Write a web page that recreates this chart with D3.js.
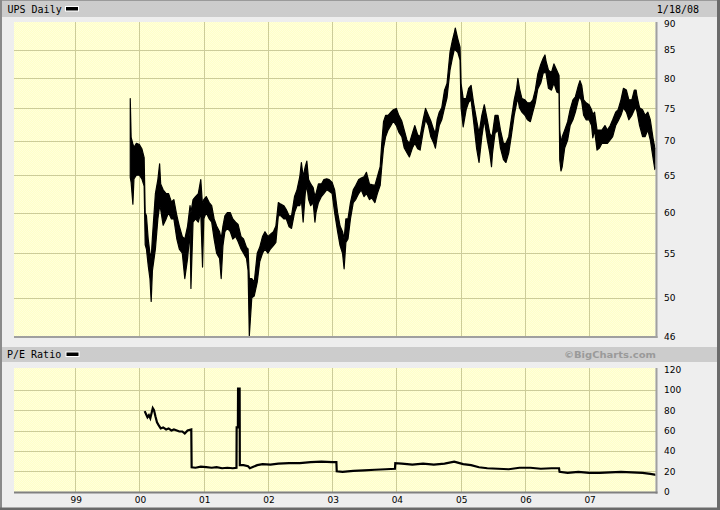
<!DOCTYPE html>
<html><head><meta charset="utf-8">
<script src="https://cdn.jsdelivr.net/npm/d3@7"></script>
<style>body{margin:0;background:#eeeeee}svg{display:block}</style>
</head><body>
<svg id="chart" width="720" height="510"></svg>
<script>
// ---------- DATA ----------
const titleMain = "UPS Daily";
const titleLower = "P/E Ratio";
const dateLabel = "1/18/08";
const creditLabel = "\u00A9BigCharts.com";

const priceTicks = [46, 50, 55, 60, 65, 70, 75, 80, 85, 90];
const peTicks = [0, 20, 40, 60, 80, 100, 120];
const yearLabels = ["99", "00", "01", "02", "03", "04", "05", "06", "07"];
const yearStarts = ["1999-01-01", "2000-01-01", "2001-01-01", "2002-01-01", "2003-01-01",
                    "2004-01-01", "2005-01-01", "2006-01-01", "2007-01-01"];

const priceDates = [
 "1999-11-10","1999-11-15","1999-11-25","1999-12-01","1999-12-15","2000-01-01","2000-01-15","2000-01-28",
 "2000-02-03","2000-02-10","2000-02-20","2000-03-01","2000-03-08","2000-03-15","2000-04-01","2000-04-15",
 "2000-04-25","2000-05-01","2000-05-15","2000-06-01","2000-06-15","2000-07-01","2000-07-15","2000-08-01",
 "2000-08-15","2000-09-01","2000-09-15","2000-10-01","2000-10-15","2000-10-20","2000-11-01","2000-11-15",
 "2000-12-01","2000-12-15","2000-12-25","2001-01-01","2001-01-15","2001-02-01","2001-02-15","2001-03-01",
 "2001-03-15","2001-04-01","2001-04-10","2001-04-20","2001-05-01","2001-05-15","2001-06-01","2001-06-15",
 "2001-07-01","2001-07-15","2001-08-01","2001-08-15","2001-09-01","2001-09-10","2001-09-17","2001-10-01",
 "2001-10-15","2001-11-01","2001-11-15","2001-12-01","2001-12-15","2002-01-01","2002-01-15","2002-02-01",
 "2002-02-15","2002-03-01","2002-03-15","2002-04-01","2002-04-15","2002-05-01","2002-05-15","2002-06-01",
 "2002-06-15","2002-07-01","2002-07-10","2002-07-20","2002-08-01","2002-08-10","2002-08-20","2002-09-01",
 "2002-09-15","2002-09-25","2002-10-01","2002-10-15","2002-11-01","2002-11-15","2002-12-01","2002-12-15",
 "2003-01-01","2003-01-15","2003-02-01","2003-02-15","2003-03-01","2003-03-10","2003-03-20","2003-04-01",
 "2003-04-15","2003-05-01","2003-05-15","2003-06-01","2003-06-15","2003-07-01","2003-07-15","2003-08-01",
 "2003-08-15","2003-09-01","2003-09-15","2003-10-01","2003-10-10","2003-10-20","2003-11-01","2003-11-15",
 "2003-12-01","2003-12-15","2004-01-01","2004-01-15","2004-02-01","2004-02-15","2004-03-01","2004-03-15",
 "2004-04-01","2004-04-15","2004-05-01","2004-05-15","2004-06-01","2004-06-15","2004-07-01","2004-07-15",
 "2004-08-01","2004-08-10","2004-08-20","2004-09-01","2004-09-15","2004-10-01","2004-10-15","2004-11-01",
 "2004-11-15","2004-11-25","2004-12-01","2004-12-15","2004-12-28","2005-01-03","2005-01-15","2005-02-01",
 "2005-02-15","2005-03-01","2005-03-15","2005-04-01","2005-04-15","2005-05-01","2005-05-15","2005-06-01",
 "2005-06-15","2005-06-25","2005-07-01","2005-07-15","2005-08-01","2005-08-15","2005-09-01","2005-09-15",
 "2005-10-01","2005-10-15","2005-11-01","2005-11-15","2005-11-22","2005-12-01","2005-12-15","2006-01-01",
 "2006-01-15","2006-02-01","2006-02-15","2006-03-01","2006-03-15","2006-04-01","2006-04-15","2006-04-25",
 "2006-05-01","2006-05-15","2006-06-01","2006-06-15","2006-07-01","2006-07-14","2006-07-18","2006-07-25",
 "2006-08-01","2006-08-15","2006-09-01","2006-09-15","2006-10-01","2006-10-15","2006-11-01","2006-11-10",
 "2006-11-20","2006-12-01","2006-12-15","2007-01-01","2007-01-15","2007-01-22","2007-02-01","2007-02-15",
 "2007-03-01","2007-03-15","2007-04-01","2007-04-15","2007-05-01","2007-05-15","2007-06-01","2007-06-15",
 "2007-07-01","2007-07-15","2007-08-01","2007-08-15","2007-09-01","2007-09-15","2007-09-25","2007-10-01",
 "2007-10-15","2007-11-01","2007-11-15","2007-12-01","2007-12-15","2008-01-01","2008-01-10","2008-01-18"
];
const priceHigh = [
 76.6,70.5,69.5,69.0,69.6,69.4,68.8,67.5,
 60.0,59.6,56.7,55.0,54.4,56.9,62.5,64.4,
 66.6,63.8,63.0,62.5,62.5,61.4,61.7,59.6,
 58.3,57.0,56.7,58.3,60.9,60.0,61.7,62.1,
 62.5,64.4,60.9,61.7,62.1,61.3,60.9,59.2,
 58.3,57.6,56.7,58.3,59.6,60.0,60.0,59.2,
 58.8,58.5,57.0,56.7,55.7,55.5,52.1,52.1,
 51.7,55.0,55.7,57.0,57.6,57.0,57.3,57.6,
 58.3,61.3,61.1,60.9,60.4,59.6,59.6,62.1,
 63.0,64.8,66.8,64.8,66.2,67.0,64.4,63.8,
 63.3,62.1,62.5,63.8,63.8,64.4,64.5,64.4,
 64.0,63.0,60.0,58.3,57.6,56.7,59.2,59.2,
 61.3,63.0,63.6,64.4,64.6,64.8,65.4,63.8,
 63.7,63.6,64.8,66.2,69.6,72.9,73.9,73.9,
 74.4,74.8,75.0,73.9,73.0,71.6,70.1,69.6,
 71.1,72.3,70.9,70.6,73.2,75.0,73.9,73.0,
 71.6,71.1,73.2,74.4,75.1,78.0,79.1,84.6,
 86.8,88.1,89.1,87.1,85.5,79.1,76.6,76.6,
 78.3,78.8,75.9,73.2,71.1,73.9,75.6,73.2,
 71.1,70.6,71.1,73.9,73.9,71.6,69.6,69.6,
 70.6,73.2,76.4,78.3,80.0,78.3,76.6,76.4,
 75.9,75.9,76.4,78.0,80.7,82.4,83.5,84.1,
 83.0,81.4,81.0,82.5,81.4,80.5,71.6,69.6,
 70.6,71.6,72.9,74.8,76.4,76.9,78.8,79.6,
 78.8,76.4,75.9,75.6,74.8,74.0,74.4,71.6,
 71.6,71.6,72.3,71.6,72.3,73.2,74.4,74.8,
 76.4,78.3,78.0,76.4,76.4,78.0,78.0,76.9,
 75.1,74.8,73.9,74.4,73.2,70.1,68.9,68.9
];
const priceLow = [
 64.7,64.0,61.1,64.5,65.0,65.0,64.5,63.5,
 56.0,55.5,53.6,52.1,49.6,53.0,55.5,59.2,
 60.9,60.4,58.4,59.2,60.0,59.2,59.2,56.7,
 55.5,55.0,52.1,54.4,57.6,51.0,58.8,59.2,
 58.8,60.0,53.4,59.2,60.0,59.2,58.8,56.7,
 55.0,54.4,52.1,55.9,57.6,58.0,57.6,56.7,
 57.0,56.4,55.5,55.0,54.4,53.0,46.1,50.0,
 50.2,51.7,54.0,55.0,55.5,55.0,55.5,55.9,
 56.3,59.6,59.6,59.2,59.2,58.2,58.0,60.0,
 60.9,60.9,61.7,58.8,62.5,63.6,61.7,60.9,
 61.3,58.8,60.0,61.3,62.1,62.5,63.0,62.8,
 62.5,60.0,57.6,55.9,55.0,53.2,56.3,56.7,
 59.2,61.3,61.7,62.5,63.0,62.1,62.5,61.7,
 61.9,61.3,62.5,63.6,66.2,68.9,70.6,71.6,
 72.3,73.0,72.3,71.3,70.6,68.9,68.2,67.6,
 68.9,69.6,68.8,68.6,71.3,73.2,72.3,70.6,
 69.6,68.9,70.6,72.3,73.2,75.1,76.7,81.4,
 83.6,85.0,85.0,84.6,83.2,75.1,72.1,74.8,
 76.0,76.4,73.0,68.9,66.8,70.6,73.2,70.1,
 68.2,66.2,68.2,71.1,71.6,68.9,67.2,66.8,
 68.2,70.6,73.9,75.9,76.6,75.1,74.4,73.9,
 73.2,72.9,74.4,75.9,78.2,79.2,80.9,81.0,
 80.9,78.3,78.0,79.2,77.7,77.5,67.2,65.6,
 66.2,68.9,70.1,72.3,73.2,74.4,76.4,76.9,
 76.1,73.9,73.2,73.2,72.3,70.4,71.6,68.6,
 68.9,69.6,69.6,69.6,70.1,70.6,72.3,73.0,
 73.9,75.1,74.4,73.2,73.9,74.8,75.1,74.4,
 72.3,70.6,70.6,71.6,70.1,67.2,65.8,66.2
];

const peDates = [
 "2000-01-31","2000-02-08","2000-02-16","2000-02-24","2000-03-03","2000-03-10","2000-03-17","2000-03-24",
 "2000-04-01","2000-04-10","2000-04-20","2000-05-01","2000-05-15","2000-06-01","2000-06-15","2000-07-01",
 "2000-07-15","2000-08-01","2000-08-15","2000-09-01","2000-09-15","2000-10-01","2000-10-22","2000-10-24",
 "2000-11-15","2000-12-15","2001-01-15","2001-02-15","2001-03-15","2001-04-15","2001-05-15","2001-06-15",
 "2001-07-06","2001-07-07","2001-07-14","2001-07-15","2001-07-24","2001-07-25","2001-08-15","2001-09-10",
 "2001-09-20","2001-10-10","2001-11-01","2001-12-01","2002-01-15","2002-03-01","2002-05-01","2002-07-01",
 "2002-09-01","2002-11-01","2003-01-01","2003-01-25","2003-01-27","2003-03-01","2003-05-01","2003-07-01",
 "2003-09-01","2003-11-01","2003-12-24","2003-12-26","2004-02-01","2004-04-01","2004-06-01","2004-08-01",
 "2004-10-01","2004-11-25","2004-12-15","2005-01-15","2005-03-01","2005-04-15","2005-06-01","2005-08-01",
 "2005-10-01","2005-12-01","2006-02-01","2006-04-01","2006-06-01","2006-07-14","2006-07-17","2006-09-01",
 "2006-11-01","2007-01-01","2007-03-01","2007-05-01","2007-07-01","2007-09-01","2007-11-01","2007-12-15",
 "2008-01-18"
];
const peValues = [
 79,76,73,75,72,77,82,80,
 74,68,65,62,63,61,62,60,
 61,60,59,59,57,60,61,24,
 23.5,24.5,24,23.5,24,23,23.5,23,
 23.5,63,63,101,101,26,26,25,
 23,24.5,26,27,26.5,27.5,28,28,
 29,29.5,29,29,20,19.5,20.5,21,
 21.5,22,22.5,28,27.5,26.5,27.5,26.5,
 27.5,29.5,28.5,27,26,24,23,22.5,
 22,23.5,23.5,22.5,23,23,19.5,18.5,
 19.5,18.5,18.5,19,19.5,19,18.5,17.5,
 16.5
];

// ---------- DRAW ----------
const parse = d3.utcParse("%Y-%m-%d");
const svg = d3.select("#chart");

const L = 14, R = 655.5;
const mainTop = 22, mainBot = 336;
const peTop = 368, peBot = 491.7;

const x = d3.scaleUtc().domain([parse("1998-01-18"), parse("2008-01-18")]).range([L, 656.3]);
const yP = d3.scaleLog().domain([46, 90]).range([336.7, 23.3]);
const yE = d3.scaleLinear().domain([0, 120]).range([491.7, 369.3]);

const defs = svg.append("defs");
const pat = defs.append("pattern").attr("id", "dither").attr("width", 2).attr("height", 2)
  .attr("patternUnits", "userSpaceOnUse");
pat.append("rect").attr("width", 2).attr("height", 2).attr("fill", "#ffffc8");
pat.append("rect").attr("width", 1).attr("height", 1).attr("fill", "#ffffdc");
pat.append("rect").attr("x", 1).attr("y", 1).attr("width", 1).attr("height", 1).attr("fill", "#ffffdc");
defs.append("clipPath").attr("id", "clipMain").append("rect")
  .attr("x", L).attr("y", mainTop).attr("width", R - L).attr("height", mainBot - mainTop);
defs.append("clipPath").attr("id", "clipPE").append("rect")
  .attr("x", L).attr("y", peTop).attr("width", R - L).attr("height", peBot - peTop);

// background + frame
svg.append("rect").attr("width", 720).attr("height", 510).attr("fill", "#eeeeee");
svg.append("rect").attr("x", 2).attr("y", 1).attr("width", 715).attr("height", 16).attr("fill", "#cccccc");
svg.append("rect").attr("x", 2).attr("y", 347).attr("width", 715).attr("height", 15).attr("fill", "#cccccc");
svg.append("rect").attr("x", 0).attr("y", 0).attr("width", 720).attr("height", 1).attr("fill", "#9a9a9a");
svg.append("rect").attr("x", 0).attr("y", 0).attr("width", 2).attr("height", 510).attr("fill", "#8a8a8a");
svg.append("rect").attr("x", 717).attr("y", 0).attr("width", 3).attr("height", 510).attr("fill", "#6a6a6a");
svg.append("rect").attr("x", 0).attr("y", 507.5).attr("width", 720).attr("height", 2.5).attr("fill", "#6a6a6a");

// header texts
const mono = "'DejaVu Sans Mono', monospace";
const sans = "'DejaVu Sans', Verdana, sans-serif";
svg.append("text").attr("x", 7.5).attr("y", 12.5).attr("font-family", mono).attr("font-size", 10)
  .attr("fill", "#000").text(titleMain);
svg.append("rect").attr("x", 65).attr("y", 6).attr("width", 14).attr("height", 5.5).attr("fill", "#fff");
svg.append("rect").attr("x", 66).attr("y", 7).attr("width", 12).attr("height", 3.5).attr("fill", "#000");
svg.append("text").attr("x", 699).attr("y", 12.5).attr("text-anchor", "end").attr("font-family", mono)
  .attr("font-size", 10).attr("fill", "#000").text(dateLabel);

svg.append("text").attr("x", 7).attr("y", 358).attr("font-family", mono).attr("font-size", 10)
  .attr("fill", "#000").text(titleLower);
svg.append("rect").attr("x", 65.5).attr("y", 351.5).attr("width", 14).attr("height", 5.5).attr("fill", "#fff");
svg.append("rect").attr("x", 66.5).attr("y", 352.5).attr("width", 12).attr("height", 3.5).attr("fill", "#000");
svg.append("text").attr("x", 656).attr("y", 358).attr("text-anchor", "end").attr("font-family", sans)
  .attr("font-weight", "bold").attr("font-size", 9.5).attr("fill", "#9a9a9a")
  .attr("textLength", 92).attr("lengthAdjust", "spacingAndGlyphs").text(creditLabel);

// ---- main panel ----
svg.append("rect").attr("x", L).attr("y", mainTop).attr("width", R - L).attr("height", mainBot - mainTop)
  .attr("fill", "url(#dither)");
const gridColor = "#cccc99";
const gMain = svg.append("g").attr("shape-rendering", "crispEdges");
gMain.selectAll("line.h").data(priceTicks.filter(t => t > 46 && t < 90)).join("line")
  .attr("x1", L).attr("x2", R).attr("y1", d => Math.round(yP(d)) + 0.5).attr("y2", d => Math.round(yP(d)) + 0.5)
  .attr("stroke", gridColor).attr("stroke-width", 1);
gMain.selectAll("line.v").data(yearStarts).join("line")
  .attr("x1", d => Math.round(x(parse(d))) + 0.5).attr("x2", d => Math.round(x(parse(d))) + 0.5)
  .attr("y1", mainTop).attr("y2", mainBot).attr("stroke", gridColor).attr("stroke-width", 1);

const priceData = priceDates.map((d, i) => ({ date: parse(d), hi: priceHigh[i], lo: priceLow[i] }));
const area = d3.area().x(d => x(d.date)).y0(d => yP(d.lo)).y1(d => yP(d.hi));
svg.append("path").datum(priceData).attr("d", area).attr("clip-path", "url(#clipMain)")
  .attr("fill", "#000").attr("stroke", "#000").attr("stroke-width", 1.2).attr("stroke-linejoin", "round");

svg.append("rect").attr("x", R).attr("y", mainTop).attr("width", 2).attr("height", mainBot - mainTop + 2).attr("fill", "#a0a0a0");
svg.append("rect").attr("x", L).attr("y", mainBot).attr("width", R - L + 2).attr("height", 2).attr("fill", "#a0a0a0");

svg.append("g").selectAll("text").data(priceTicks).join("text")
  .attr("x", 664).attr("y", d => yP(d) + 3.5).attr("font-family", sans).attr("font-size", 9)
  .attr("fill", "#000").text(d => d);

// ---- P/E panel ----
svg.append("rect").attr("x", L).attr("y", peTop).attr("width", R - L).attr("height", peBot - peTop)
  .attr("fill", "url(#dither)");
const gPE = svg.append("g").attr("shape-rendering", "crispEdges");
gPE.selectAll("line.h").data(peTicks.filter(t => t > 0 && t < 120)).join("line")
  .attr("x1", L).attr("x2", R).attr("y1", d => Math.round(yE(d)) + 0.5).attr("y2", d => Math.round(yE(d)) + 0.5)
  .attr("stroke", gridColor).attr("stroke-width", 1);
gPE.selectAll("line.v").data(yearStarts).join("line")
  .attr("x1", d => Math.round(x(parse(d))) + 0.5).attr("x2", d => Math.round(x(parse(d))) + 0.5)
  .attr("y1", peTop).attr("y2", peBot).attr("stroke", gridColor).attr("stroke-width", 1);

const peData = peDates.map((d, i) => ({ date: parse(d), v: peValues[i] }));
const line = d3.line().x(d => x(d.date)).y(d => yE(d.v));
svg.append("path").datum(peData).attr("d", line).attr("clip-path", "url(#clipPE)")
  .attr("fill", "none").attr("stroke", "#000").attr("stroke-width", 2.2).attr("stroke-linejoin", "miter");

svg.append("rect").attr("x", R).attr("y", peTop).attr("width", 2).attr("height", peBot - peTop + 2).attr("fill", "#a0a0a0");
svg.append("rect").attr("x", L).attr("y", 491.5).attr("width", R - L + 2).attr("height", 2).attr("fill", "#808080");

svg.append("g").selectAll("text").data(peTicks).join("text")
  .attr("x", 664).attr("y", d => yE(d) + 3.5).attr("font-family", sans).attr("font-size", 9)
  .attr("fill", "#000").text(d => d);

// x labels
svg.append("g").selectAll("text").data(yearStarts).join("text")
  .attr("x", d => x(parse(d)) + 1).attr("y", 503).attr("text-anchor", "middle")
  .attr("font-family", sans).attr("font-size", 9).attr("fill", "#000")
  .text((d, i) => yearLabels[i]);
</script>
</body></html>
